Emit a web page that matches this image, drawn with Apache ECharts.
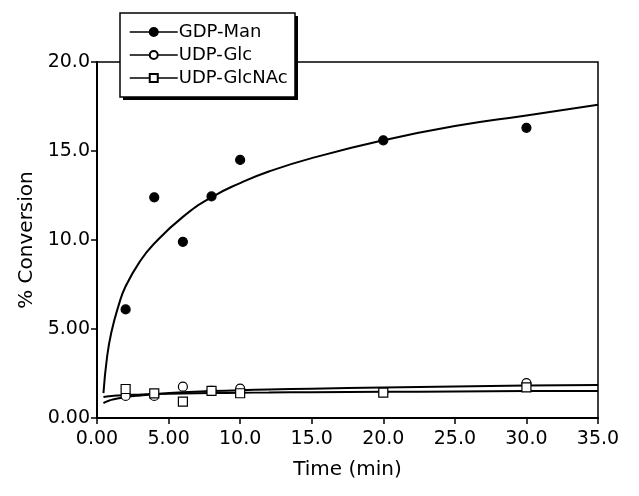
<!DOCTYPE html>
<html>
<head>
<meta charset="utf-8">
<script src="https://cdn.jsdelivr.net/npm/echarts@6/dist/echarts.min.js"></script>
<style>
html,body{margin:0;padding:0;background:#fff;}
#c{width:639px;height:496px;}
</style>
</head>
<body>
<div id="c"></div>
<script>
// Measured data points
var times = [2, 4, 6, 8, 10, 20, 30];
var gdpMan = [6.1, 12.4, 9.9, 12.45, 14.5, 15.6, 16.3];
var udpGlc = [1.24, 1.24, 1.76, 1.52, 1.65, 1.45, 1.96];
var udpGlcNAc = [1.63, 1.38, 0.92, 1.52, 1.39, 1.42, 1.72];

// Fitted curves
var fitX = [0.45, 0.7, 1, 1.5, 2, 3, 4, 6, 8, 10, 12, 15, 20, 25, 30, 35];
var fitGdpMan = [1.4, 3.4, 4.8, 6.3, 7.4, 8.8, 9.8, 11.3, 12.4, 13.2, 13.85, 14.6, 15.6, 16.4, 17.0, 17.6];
var fitUdpGlc = [0.83, 0.93, 1.02, 1.11, 1.18, 1.27, 1.34, 1.44, 1.51, 1.56, 1.60, 1.65, 1.72, 1.77, 1.82, 1.85];
var fitUdpGlcNAc = [1.18, 1.21, 1.24, 1.27, 1.29, 1.32, 1.35, 1.38, 1.40, 1.42, 1.43, 1.45, 1.47, 1.49, 1.51, 1.52];

var seriesNames = ['GDP-Man', 'UDP-Glc', 'UDP-GlcNAc'];
var xTicks = ['0.00', '5.00', '10.0', '15.0', '20.0', '25.0', '30.0', '35.0'];
var yTicks = ['0.00', '5.00', '10.0', '15.0', '20.0'];

function pairs(xs, ys) { return xs.map(function (x, i) { return [x, ys[i]]; }); }

var FONT = 'DejaVu Sans';
var chart = echarts.init(document.getElementById('c'), null, { renderer: 'canvas' });

function curve(ys) {
  return {
    type: 'line', data: pairs(fitX, ys), smooth: 0.5, symbol: 'none', silent: true,
    lineStyle: { color: '#000', width: 2 }, z: 2
  };
}
function pts(name, ys, symbol, fill) {
  return {
    name: name, type: 'line', data: pairs(times, ys), symbol: symbol, symbolSize: 9,
    showSymbol: true, lineStyle: { width: 0, opacity: 0 },
    itemStyle: { color: fill, borderColor: '#000', borderWidth: 1.2 }, z: 3
  };
}

chart.setOption({
  animation: false,
  backgroundColor: '#fff',
  textStyle: { fontFamily: FONT, color: '#000' },
  grid: { left: 97, right: 41, top: 62, bottom: 78, show: true, borderColor: '#000', borderWidth: 1.5, backgroundColor: 'transparent' },
  graphic: [
    { type: 'rect', z: 100, zlevel: 0, shape: { x: 123, y: 16, width: 175, height: 84 }, style: { fill: '#000' } },
    { type: 'rect', z: 101, zlevel: 0, shape: { x: 120, y: 13, width: 175, height: 84 }, style: { fill: '#fff', stroke: '#000', lineWidth: 1.5 } }
  ],
  legend: {
    data: seriesNames, z: 200,
    orient: 'vertical', left: 129, top: 22,
    itemWidth: 48, itemHeight: 10, itemGap: 3,
    padding: 0,
    lineStyle: { color: '#000', width: 1.5, opacity: 1 },
    textStyle: { fontFamily: FONT, fontSize: 18, lineHeight: 20, color: '#000', padding: [0, 0, 0, -4] }
  },
  xAxis: {
    type: 'value', min: 0, max: 35, interval: 5,
    name: 'Time (min)', nameLocation: 'middle', nameGap: 42,
    nameTextStyle: { fontFamily: FONT, fontSize: 20, color: '#000' },
    axisLine: { show: true, lineStyle: { color: '#000', width: 2 } },
    axisTick: { show: true, inside: false, length: 6, lineStyle: { color: '#000', width: 1.5 } },
    axisLabel: { fontFamily: FONT, fontSize: 19, color: '#000', margin: 12,
      formatter: function (v) { return xTicks[Math.round(v / 5)]; } },
    splitLine: { show: false }
  },
  yAxis: {
    type: 'value', min: 0, max: 20, interval: 5,
    name: '% Conversion', nameLocation: 'middle', nameGap: 57, nameRotate: 90,
    nameTextStyle: { fontFamily: FONT, fontSize: 20, color: '#000' },
    axisLine: { show: true, lineStyle: { color: '#000', width: 2 } },
    axisTick: { show: true, inside: false, length: 6, lineStyle: { color: '#000', width: 1.5 } },
    axisLabel: { fontFamily: FONT, fontSize: 19, color: '#000', margin: 7,
      formatter: function (v) { return yTicks[Math.round(v / 5)]; } },
    splitLine: { show: false }
  },
  series: [
    curve(fitGdpMan), curve(fitUdpGlc), curve(fitUdpGlcNAc),
    pts(seriesNames[0], gdpMan, 'circle', '#000'),
    pts(seriesNames[1], udpGlc, 'circle', '#fff'),
    pts(seriesNames[2], udpGlcNAc, 'rect', '#fff')
  ]
});
</script>
</body>
</html>
